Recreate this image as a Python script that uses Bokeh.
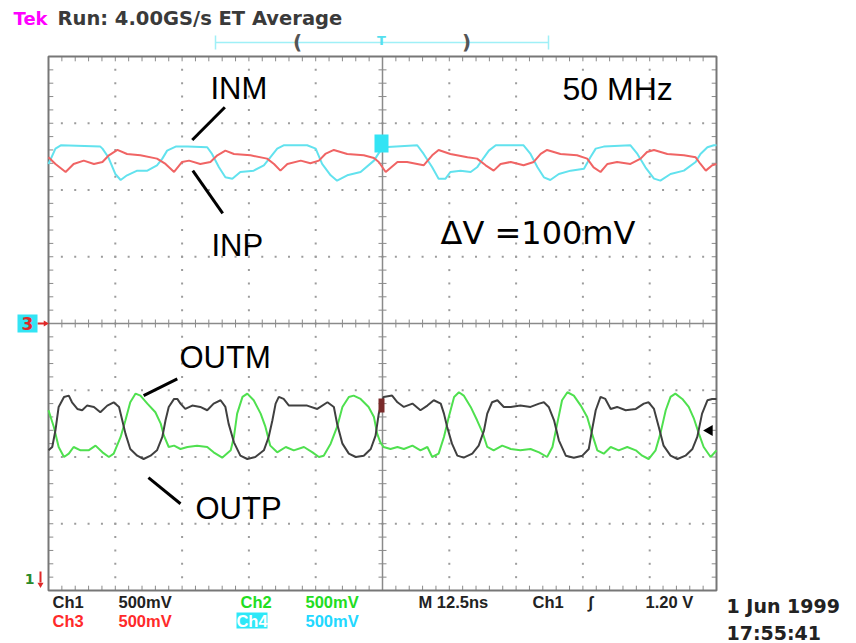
import math
from bokeh.plotting import figure
from bokeh.models import Range1d, Label, BoxAnnotation
from bokeh.embed import file_html
from bokeh.resources import INLINE

# ---------------- data: time in ns, amplitude in screen divisions ----------------
# Ch4 (cyan) = INM
t_ch4 = [0.0, 1.3, 2.3, 9.7, 10.1, 11.2, 12.5, 13.5, 14.7, 16.6, 18.5, 20.3, 21.3, 22.2, 23.8,
         26.0, 29.7, 30.6, 31.9, 33.1, 34.4, 35.9, 38.4, 40.3, 41.5, 42.8, 44.0, 48.4, 50.0, 51.2,
         52.8, 54.0, 55.9, 58.4, 60.9, 62.1, 62.7, 69.0, 70.2, 71.8, 73.0, 74.3, 75.2, 77.1, 79.0,
         80.2, 81.5, 82.4, 83.7, 88.9, 90.2, 91.5, 92.7, 93.9, 95.5, 97.7, 100.2, 101.4, 102.4, 103.9,
         108.9, 110.2, 111.7, 113.3, 114.5, 116.4, 118.9, 121.1, 122.0, 123.3, 124.5, 125.0]
v_ch4 = [2.39, 2.62, 2.67, 2.65, 2.62, 2.49, 2.24, 2.15, 2.22, 2.29, 2.29, 2.37, 2.47, 2.59, 2.65,
         2.65, 2.64, 2.54, 2.34, 2.19, 2.17, 2.27, 2.29, 2.37, 2.49, 2.62, 2.67, 2.67, 2.62, 2.39,
         2.22, 2.14, 2.22, 2.27, 2.44, 2.59, 2.64, 2.67, 2.54, 2.34, 2.17, 2.17, 2.27, 2.29, 2.27,
         2.34, 2.49, 2.59, 2.67, 2.67, 2.54, 2.34, 2.19, 2.15, 2.24, 2.29, 2.32, 2.49, 2.62, 2.65,
         2.67, 2.54, 2.34, 2.17, 2.14, 2.24, 2.29, 2.42, 2.54, 2.64, 2.67, 2.67]

# Ch3 (red) = INP
t_ch3 = [0.0, 1.3, 3.2, 4.7, 6.6, 8.5, 10.1, 11.3, 12.9, 14.7, 17.2, 20.3, 21.9, 23.5, 25.0,
         26.3, 28.4, 30.3, 31.6, 33.1, 34.7, 37.8, 40.9, 42.2, 43.4, 44.7, 47.2, 49.0, 50.6, 51.8,
         53.4, 55.9, 59.0, 60.9, 61.8, 63.1, 65.3, 67.1, 69.0, 70.2, 71.8, 73.0, 75.2, 78.4, 80.2,
         81.8, 83.3, 84.6, 86.5, 88.9, 90.8, 92.1, 93.3, 95.8, 98.9, 100.8, 102.0, 103.3, 104.6, 106.4,
         108.9, 110.8, 112.0, 113.3, 115.8, 118.9, 121.1, 122.0, 123.0, 124.2, 125.0]
v_ch3 = [2.49, 2.39, 2.27, 2.39, 2.44, 2.39, 2.42, 2.52, 2.60, 2.54, 2.52, 2.47, 2.39, 2.27, 2.42,
         2.44, 2.39, 2.42, 2.52, 2.59, 2.54, 2.52, 2.47, 2.39, 2.29, 2.39, 2.44, 2.40, 2.44, 2.54,
         2.60, 2.54, 2.52, 2.48, 2.42, 2.27, 2.42, 2.42, 2.39, 2.37, 2.52, 2.60, 2.54, 2.49, 2.47,
         2.37, 2.29, 2.39, 2.42, 2.37, 2.42, 2.54, 2.60, 2.54, 2.52, 2.47, 2.34, 2.27, 2.39, 2.42,
         2.39, 2.47, 2.57, 2.60, 2.54, 2.52, 2.49, 2.39, 2.29, 2.37, 2.39]

# Ch1 (black) = OUTP
t_ch1 = [0.0, 0.7, 1.3, 1.9, 2.9, 3.8, 4.4, 5.4, 6.3, 7.2,
         8.5, 9.7, 11.0, 12.2, 13.2, 13.8, 14.4, 15.3, 16.6, 17.8,
         19.1, 20.3, 21.3, 21.9, 22.5, 23.5, 24.1, 24.7, 25.6, 26.9,
         28.4, 29.7, 30.9, 32.2, 33.1, 33.7, 34.7, 35.9, 37.2, 38.7,
         40.3, 41.2, 41.9, 42.5, 43.1, 44.0, 45.0, 46.5, 48.4, 50.3,
         52.2, 53.4, 54.0, 55.0, 56.2, 57.5, 59.0, 60.3, 61.2, 61.8,
         62.7, 64.3, 65.3, 66.5, 68.1, 69.6, 70.9, 72.1, 73.4, 74.0,
         74.6, 75.5, 76.5, 77.7, 79.3, 80.5, 81.5, 82.1, 83.0, 84.0,
         85.2, 86.5, 88.3, 90.2, 91.8, 92.7, 93.6, 94.6, 95.5, 96.8,
         98.3, 99.9, 101.1, 101.7, 102.4, 103.3, 104.2, 105.2, 106.4, 108.0,
         109.9, 111.4, 112.3, 113.3, 114.2, 115.1, 116.4, 117.7, 119.2, 120.5,
         121.4, 122.3, 123.3, 124.2, 125.0]
v_ch1 = [-1.90, -1.85, -1.60, -1.25, -1.10, -1.08, -1.18, -1.28, -1.30, -1.23,
         -1.25, -1.33, -1.23, -1.18, -1.25, -1.45, -1.65, -1.88, -1.98, -2.03,
         -1.98, -1.90, -1.70, -1.45, -1.25, -1.13, -1.13, -1.20, -1.28, -1.23,
         -1.25, -1.30, -1.20, -1.15, -1.25, -1.50, -1.78, -1.98, -2.03, -2.00,
         -1.90, -1.70, -1.45, -1.20, -1.10, -1.13, -1.23, -1.23, -1.23, -1.28,
         -1.18, -1.25, -1.50, -1.80, -1.95, -2.00, -1.98, -1.88, -1.68, -1.35,
         -1.10, -1.08, -1.18, -1.25, -1.20, -1.30, -1.23, -1.15, -1.20, -1.35,
         -1.55, -1.80, -1.98, -2.01, -1.95, -1.83, -1.60, -1.35, -1.18, -1.15,
         -1.25, -1.25, -1.23, -1.25, -1.20, -1.18, -1.25, -1.45, -1.75, -1.98,
         -2.01, -1.98, -1.88, -1.60, -1.30, -1.10, -1.13, -1.28, -1.25, -1.30,
         -1.28, -1.20, -1.18, -1.28, -1.55, -1.83, -1.98, -2.03, -1.98, -1.88,
         -1.70, -1.35, -1.15, -1.13, -1.13]

# Ch2 (green) = OUTM
t_ch2 = [0.0, 1.0, 1.9, 2.9, 3.8, 4.7, 6.0, 7.5, 8.8, 10.1,
         11.3, 12.2, 13.5, 14.4, 15.3, 16.3, 17.2, 18.5, 20.0, 21.0,
         21.6, 22.5, 23.5, 24.7, 26.0, 27.8, 29.7, 30.9, 32.5, 34.1,
         34.7, 35.3, 36.3, 37.2, 38.4, 39.7, 40.6, 41.5, 42.8, 44.4,
         45.9, 47.8, 49.4, 50.6, 51.5, 52.8, 54.0, 55.0, 56.2, 57.1,
         58.4, 59.9, 60.9, 61.5, 62.1, 62.7, 64.0, 65.3, 66.5, 68.1,
         69.6, 70.9, 71.8, 73.0, 74.0, 74.9, 75.9, 76.8, 77.7, 79.0,
         80.2, 81.2, 82.1, 83.3, 84.9, 86.5, 88.3, 90.2, 91.8, 93.3,
         94.3, 95.2, 96.1, 97.1, 98.3, 99.6, 100.8, 101.7, 102.7, 103.9,
         105.2, 106.7, 108.3, 109.9, 111.1, 112.3, 113.6, 114.5, 115.5, 116.4,
         117.3, 118.6, 119.8, 120.8, 121.7, 122.6, 123.9, 125.0]
v_ch2 = [-1.30, -1.55, -1.85, -2.00, -1.95, -1.85, -1.90, -1.90, -1.83, -1.93,
         -2.00, -1.95, -1.70, -1.45, -1.18, -1.05, -1.08, -1.20, -1.33, -1.50,
         -1.68, -1.85, -1.83, -1.88, -1.85, -1.83, -1.85, -1.93, -2.01, -1.90,
         -1.70, -1.35, -1.10, -1.05, -1.15, -1.35, -1.55, -1.83, -1.93, -1.85,
         -1.90, -1.85, -1.93, -2.00, -1.98, -1.80, -1.55, -1.25, -1.10, -1.08,
         -1.13, -1.25, -1.40, -1.65, -1.78, -1.85, -1.88, -1.85, -1.88, -1.83,
         -1.90, -1.85, -2.00, -1.95, -1.70, -1.40, -1.10, -1.03, -1.08, -1.25,
         -1.45, -1.63, -1.85, -1.90, -1.83, -1.88, -1.90, -1.88, -1.93, -2.00,
         -1.85, -1.50, -1.15, -1.03, -1.08, -1.23, -1.40, -1.65, -1.90, -1.95,
         -1.85, -1.90, -1.85, -1.90, -1.98, -2.03, -1.90, -1.65, -1.30, -1.10,
         -1.05, -1.13, -1.25, -1.43, -1.65, -1.85, -2.00, -1.90]

# pointer lines for the trace names: (t0, v0) -> (t1, v1)
ptr_t0 = [26.9, 27.0, 17.8, 18.7]
ptr_v0 = [2.75, 2.29, -1.08, -2.31]
ptr_t1 = [33.0, 32.6, 24.1, 24.7]
ptr_v1 = [3.24, 1.65, -0.83, -2.70]

# ---------------- screen geometry ----------------
W, H = 856, 643
GL, GR, GT, GB = 48, 716, 56, 590       # graticule edges in pixels
NDX, NDY = 10, 8
NS_DIV = 12.5
PXX = (GR - GL) / NDX
PXY = (GB - GT) / NDY
YC = (GT + GB) / 2
TMAX = NDX * NS_DIV
YH = NDY / 2


def X(px):
    return (px - GL) / PXX * NS_DIV


def Y(py):
    return (YC - py) / PXY


p = figure(width=W, height=H, x_range=Range1d(X(0), X(W)), y_range=Range1d(Y(H), Y(0)),
           output_backend="svg", toolbar_location=None, x_axis_type=None, y_axis_type=None,
           min_border=0, outline_line_color=None,
           background_fill_color="white", border_fill_color="white")

GCOL = "#8a8a8a"
# dotted graticule
dx, dy = [], []
for k in range(1, NDX):
    if k == NDX // 2:
        continue
    for j in range(1, NDY * 5):
        dx.append(k * NS_DIV)
        dy.append(-YH + j * 0.2)
for m in range(1, NDY):
    if m == NDY // 2:
        continue
    for i in range(1, NDX * 5):
        dx.append(i * NS_DIV / 5)
        dy.append(-YH + m)
p.scatter(dx, dy, marker="square", size=2, fill_color="#9c9c9c", line_color=None)

# ticks on centre lines and borders
hx = 4 / PXX * NS_DIV
hy = 4 / PXY
sx0, sy0, sx1, sy1 = [], [], [], []
for i in range(1, NDX * 5):
    x = i * NS_DIV / 5
    sx0 += [x, x, x]
    sy0 += [-hy, YH, -YH]
    sx1 += [x, x, x]
    sy1 += [hy, YH - 1.2 * hy, -YH + 1.2 * hy]
for j in range(1, NDY * 5):
    y = -YH + j * 0.2
    sx0 += [TMAX / 2 - hx, 0, TMAX]
    sy0 += [y, y, y]
    sx1 += [TMAX / 2 + hx, 1.2 * hx, TMAX - 1.2 * hx]
    sy1 += [y, y, y]
p.segment(sx0, sy0, sx1, sy1, line_color=GCOL, line_width=1)
p.segment([TMAX / 2, 0], [-YH, 0], [TMAX / 2, TMAX], [YH, 0], line_color=GCOL, line_width=1.5)
p.quad(left=[0], right=[TMAX], bottom=[-YH], top=[YH], fill_color=None,
       line_color="#777777", line_width=2)

# ---------------- traces ----------------
p.line(t_ch4, v_ch4, line_color="#62e2ee", line_width=2)
p.line(t_ch3, v_ch3, line_color="#f06464", line_width=2)
p.line(t_ch2, v_ch2, line_color="#4fe04f", line_width=2)
p.line(t_ch1, v_ch1, line_color="#404040", line_width=2)

# pointer lines
p.segment(ptr_t0, ptr_v0, ptr_t1, ptr_v1, line_color="black", line_width=3)


# ---------------- annotations ----------------
def lab(text, x, yc, size, color="black", font="Liberation Sans", style="normal", align="left"):
    p.add_layout(Label(x=x, y=H - yc, x_units="screen", y_units="screen", text=text,
                       text_font_size=f"{size}px", text_color=color, text_font=font,
                       text_font_style=style, text_align=align, text_baseline="middle"))


def box(l, r, t, b, color):
    p.add_layout(BoxAnnotation(left=l, right=r, top=H - t, bottom=H - b,
                               left_units="screen", right_units="screen",
                               top_units="screen", bottom_units="screen",
                               fill_color=color, fill_alpha=1.0, line_color=None))


HDR = "DejaVu Sans"
NAR = "Liberation Sans"

lab("Tek", 13, 18, 18, "#ff00ff", HDR, "bold")
lab("Run: 4.00GS/s ET Average", 57, 18, 19.5, "#3a3a3a", HDR, "bold")

# record-view bracket above the graticule
p.segment([X(215), X(215), X(548)], [Y(42), Y(35), Y(35)], [X(548), X(215), X(548)],
          [Y(42), Y(49), Y(49)], line_color="#9ff0f7", line_width=1.5)
lab("(", 297, 41, 20, "#555555", HDR, "bold", "center")
lab(")", 466, 41, 20, "#555555", HDR, "bold", "center")
lab("T", 381, 40, 13, "#55dfee", HDR, "bold", "center")

# trace names
lab("INM", 210, 88, 31)
lab("INP", 211, 245, 31)
lab("50 MHz", 562, 88, 32)
lab("\u0394V =100mV", 440, 232, 32, "black", "DejaVu Sans")
lab("OUTM", 179, 357, 31)
lab("OUTP", 195, 508, 31)

# channel ground / trigger markers
box(17, 37, 314, 332, "#33e4f4")
lab("3", 27, 323, 17, "#e02828", HDR, "bold", "center")
p.segment([X(37)], [Y(323)], [X(44)], [Y(323)], line_color="#e02828", line_width=2)
p.scatter([X(45)], [Y(323)], marker="triangle", angle=-math.pi / 2, size=6,
          fill_color="#e02828", line_color=None)
lab("1", 29, 578, 14, "#2a8a2a", HDR, "bold", "center")
p.segment([X(40)], [Y(571)], [X(40)], [Y(582)], line_color="#e02828", line_width=2)
p.scatter([X(40)], [Y(584)], marker="triangle", angle=math.pi, size=6,
          fill_color="#e02828", line_color=None)
box(374, 388, 134, 152, "#33e4f4")
p.segment([X(381)], [Y(137)], [X(381)], [Y(150)], line_color="#2a7f8a", line_width=1.5)
box(378, 384, 398, 412, "#7a2a2a")
p.scatter([X(709)], [Y(430)], marker="triangle", angle=math.pi / 2, size=11,
          fill_color="black", line_color=None)

# bottom read-outs
BS = 16.5
lab("Ch1", 52, 601, BS, "#222222", NAR, "bold")
lab("500mV", 118, 601, BS, "#222222", NAR, "bold")
lab("Ch2", 240, 601, BS, "#22dd22", NAR, "bold")
lab("500mV", 305, 601, BS, "#22dd22", NAR, "bold")
lab("M 12.5ns", 418, 601, BS, "#222222", NAR, "bold")
lab("Ch1", 532, 601, BS, "#222222", NAR, "bold")
lab("\u222B", 588, 601, BS, "#222222", NAR, "bold")
lab("1.20 V", 645, 601, BS, "#222222", NAR, "bold")
lab("Ch3", 52, 620, BS, "#ff2a2a", NAR, "bold")
lab("500mV", 118, 620, BS, "#ff2a2a", NAR, "bold")
box(236, 267, 612, 628, "#2ee8f8")
lab("Ch4", 251.5, 620, BS, "white", NAR, "bold", "center")
lab("500mV", 305, 620, BS, "#22d8ff", NAR, "bold")
lab("1 Jun 1999", 726, 605, 19, "#222222", HDR, "bold")
lab("17:55:41", 726, 632, 19, "#222222", HDR, "bold")

open("out.html", "w").write(file_html(p, INLINE))
